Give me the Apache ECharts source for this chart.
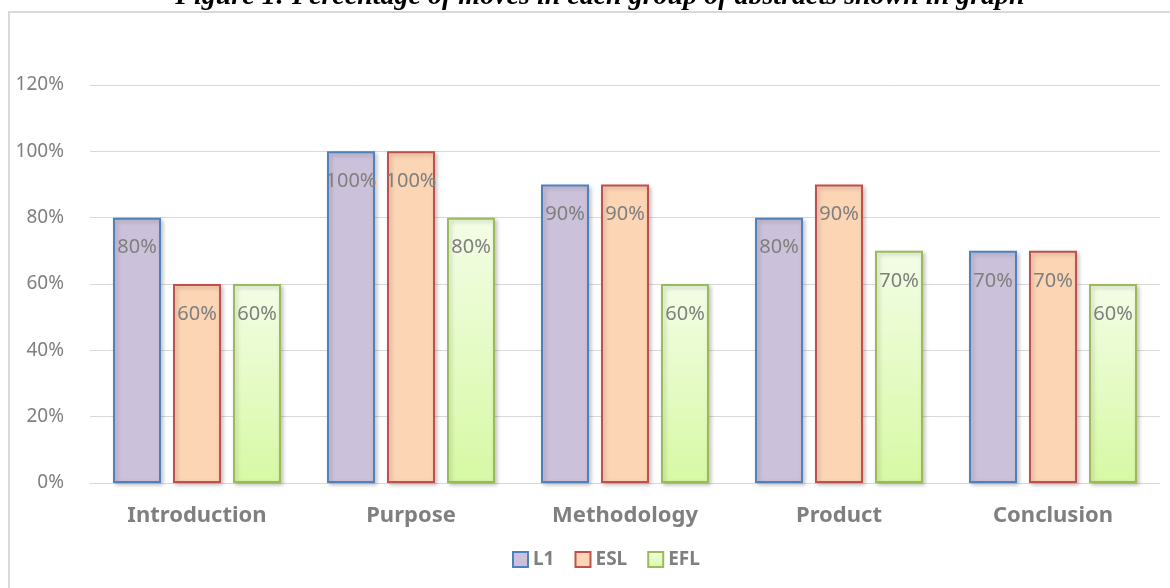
<!DOCTYPE html>
<html>
<head>
<meta charset="utf-8">
<script src="https://cdn.jsdelivr.net/npm/echarts@6/dist/echarts.min.js"></script>
<style>html,body{margin:0;padding:0;background:#fff}#c{width:1170px;height:588px}</style>
</head>
<body>
<div id="c"></div>
<script>
const categories = ['Introduction', 'Purpose', 'Methodology', 'Product', 'Conclusion'];
const seriesNames = ['L1', 'ESL', 'EFL'];
const l1Values = [80, 100, 90, 80, 70];
const eslValues = [60, 100, 90, 90, 70];
const eflValues = [60, 80, 60, 70, 60];
const yTicks = [0, 20, 40, 60, 80, 100, 120];
const titleText = 'Figure 1: Percentage of moves in each group of abstracts shown in graph';

const chart = echarts.init(document.getElementById('c'), null, {renderer: 'canvas'});
const labelCfg = {show: true, position: 'insideTop', distance: 20, formatter: '{c}%', color: '#7f7f7f', fontSize: 20, fontFamily: 'Noto Sans'};
const shadow = {shadowBlur: 4, shadowColor: 'rgba(0,0,0,0.22)', shadowOffsetX: 2, shadowOffsetY: 2};
chart.setOption({
  animation: false,
  graphic: [
    {type: 'rect', shape: {x: 9, y: 12, width: 1300, height: 700}, style: {fill: 'none', stroke: '#d9d9d9', lineWidth: 2}, z: -1},
    {type: 'text', x: 600, y: 11, style: {text: titleText, fill: '#000', font: 'italic bold 28px "Liberation Serif"', textAlign: 'center', textVerticalAlign: 'bottom'}}
  ],
  legend: {
    data: seriesNames, top: 545, left: 507, icon: 'rect', itemWidth: 15, itemHeight: 15, itemGap: 20,
    textStyle: {color: '#7f7f7f', fontSize: 19, fontWeight: 'bold', fontFamily: 'Noto Sans'}
  },
  grid: {left: 90, right: 10, top: 85, bottom: 105},
  xAxis: {
    type: 'category', data: categories,
    axisLine: {lineStyle: {color: '#d9d9d9', width: 1}}, axisTick: {show: false},
    axisLabel: {color: '#7f7f7f', fontSize: 22, fontWeight: 'bold', margin: 22, fontFamily: 'Noto Sans'}
  },
  yAxis: {
    type: 'value', min: yTicks[0], max: yTicks[yTicks.length - 1], interval: 20,
    axisLine: {show: false}, axisTick: {show: false},
    splitLine: {lineStyle: {color: '#d9d9d9', width: 1}},
    axisLabel: {formatter: '{value}%', color: '#7f7f7f', fontSize: 19, margin: 26, fontFamily: 'Noto Sans'}
  },
  series: [
    {name: 'L1', type: 'bar', data: l1Values, barWidth: 48, barGap: '25%',
     itemStyle: Object.assign({color: '#ccc1da', borderColor: '#4f81bd', borderWidth: 2}, shadow), label: labelCfg},
    {name: 'ESL', type: 'bar', data: eslValues, barWidth: 48, barGap: '25%',
     itemStyle: Object.assign({color: '#fcd5b5', borderColor: '#c0504d', borderWidth: 2}, shadow), label: labelCfg},
    {name: 'EFL', type: 'bar', data: eflValues, barWidth: 48, barGap: '25%',
     itemStyle: Object.assign({color: new echarts.graphic.LinearGradient(0, 0, 0, 1, [{offset: 0, color: '#f3fde6'}, {offset: 1, color: '#d7f9a4'}]), borderColor: '#9bbb59', borderWidth: 2}, shadow), label: labelCfg}
  ]
});
</script>
</body>
</html>
